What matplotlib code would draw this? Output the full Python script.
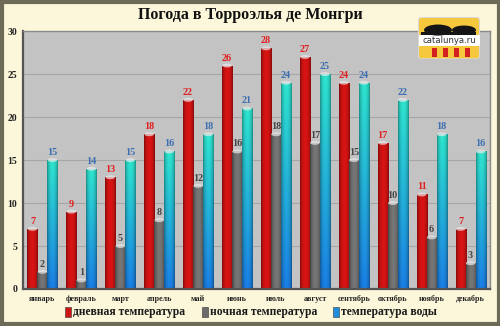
import numpy as np
import matplotlib
matplotlib.use("Agg")
import matplotlib.pyplot as plt
from matplotlib.patches import Rectangle, FancyBboxPatch, Ellipse
from matplotlib.colors import to_rgb

months = ["январь", "февраль", "март", "апрель", "май", "июнь",
          "июль", "август", "сентябрь", "октябрь", "ноябрь", "декабрь"]
day_temp = [7, 9, 13, 18, 22, 26, 28, 27, 24, 17, 11, 7]
night_temp = [2, 1, 5, 8, 12, 16, 18, 17, 15, 10, 6, 3]
water_temp = [15, 14, 15, 16, 18, 21, 24, 25, 24, 22, 18, 16]
yticks = [0, 5, 10, 15, 20, 25, 30]
title = "Погода в Торроэлья де Монгри"
legend_labels = ["дневная температура", "ночная температура", "температура воды"]

SERIF = ["Liberation Serif", "DejaVu Serif"]

fig = plt.figure(figsize=(5.0, 3.26), dpi=100)
fig.patch.set_facecolor("#fcf7da")
fig.patches.append(Rectangle((0.003, 0.005), 0.994, 0.99, transform=fig.transFigure,
                             fill=False, edgecolor="#6e6a58", linewidth=3.0))

ax = fig.add_axes([0.046, 0.1135, 0.934, 0.791])
ax.set_facecolor("#c3c3c3")
ax.set_xlim(-0.5, 11.5)
ax.set_ylim(0, 30)
ax.set_yticks(yticks)
ax.set_yticklabels([str(v) for v in yticks], fontfamily=SERIF, fontweight="bold",
                   fontsize=7, color="#222222")
ax.set_xticks(range(12))
ax.set_xticklabels(months, fontfamily=SERIF, fontweight="bold", fontsize=5.8, color="#222222")
ax.tick_params(length=0, pad=4)
for v in yticks[1:-1]:
    ax.axhline(v, color="#a6a6a6", linewidth=0.8, zorder=0.5)
for side in ["top", "right"]:
    ax.spines[side].set_color("#8a8a8a")
    ax.spines[side].set_linewidth(1.0)
for side in ["left", "bottom"]:
    ax.spines[side].set_color("#555555")
    ax.spines[side].set_linewidth(1.6)

width = 0.257
x = np.arange(12)

col = np.linspace(0, 1, 32)
prof = np.clip(np.sin(np.pi * col) ** 0.6, 0, 1)


def fill_gradient(patches, img_fn):
    for p in patches:
        x0, y0 = p.get_x(), p.get_y()
        w, h = p.get_width(), p.get_height()
        im = ax.imshow(img_fn(), extent=[x0, x0 + w, y0, y0 + h], aspect="auto",
                       origin="lower", zorder=2, interpolation="bilinear")
        im.set_clip_path(p)
        p.set_facecolor("none")
        p.set_edgecolor("none")


def horiz_img(edge, mid):
    e = np.array(to_rgb(edge))
    m = np.array(to_rgb(mid))
    row = e[None, :] * (1 - prof[:, None]) + m[None, :] * prof[:, None]
    return np.repeat(row[None, :, :], 2, axis=0)


def water_img():
    top = np.array(to_rgb("#2ee6cf"))
    bot = np.array(to_rgb("#1a7fe6"))
    t = np.linspace(0, 1, 64)[:, None, None]
    base = bot * (1 - t) + top * t
    shade = (0.6 + 0.4 * prof)[None, :, None]
    return np.clip(base * shade, 0, 1)


b_day = ax.bar(x - width, day_temp, width, zorder=2)
b_night = ax.bar(x, night_temp, width, zorder=2)
b_water = ax.bar(x + width, water_temp, width, zorder=2)

fill_gradient(b_day, lambda: horiz_img("#7a0a0a", "#d81414"))
fill_gradient(b_night, lambda: horiz_img("#3c3c3c", "#767676"))
fill_gradient(b_water, water_img)

label_style = dict(ha="center", va="bottom", fontfamily=SERIF, fontweight="bold",
                   fontsize=7.3, zorder=4)
for bars, vals, c in [(b_day, day_temp, "#e0201e"),
                      (b_night, night_temp, "#444444"),
                      (b_water, water_temp, "#3b6fb2")]:
    for p, v in zip(bars, vals):
        cx = p.get_x() + p.get_width() / 2
        ax.add_patch(Ellipse((cx, v), p.get_width() * 0.95, 0.45,
                             facecolor="#e8e8e8", edgecolor="none", alpha=0.7, zorder=3))
        ax.text(cx, v + 0.35, str(v), color=c, **label_style)

fig.text(0.5, 0.955, title, ha="center", va="center", fontfamily=SERIF,
         fontweight="bold", fontsize=11.5, color="#111111")

# legend row
leg_y = 0.042
items = [(0.13, "#d01414", legend_labels[0]),
         (0.404, "#6c6c6c", legend_labels[1]),
         (0.666, "#1f8fe0", legend_labels[2])]
for lx, c, txt in items:
    fig.patches.append(Rectangle((lx, leg_y - 0.014), 0.012, 0.03, transform=fig.transFigure,
                                 facecolor=c, edgecolor="#333333", linewidth=0.4))
    fig.text(lx + 0.016, leg_y, txt, ha="left", va="center", fontfamily=SERIF,
             fontweight="bold", fontsize=8.4, color="#1a1a1a")

# site badge in the top-right corner
lax = fig.add_axes([0.836, 0.818, 0.124, 0.13])
lax.set_xlim(0, 62)
lax.set_ylim(0, 42)
lax.axis("off")
lax.add_patch(FancyBboxPatch((0.5, 0.5), 61, 41, boxstyle="round,pad=0,rounding_size=3",
                             facecolor="#f6c83e", edgecolor="#d8d8d8", linewidth=0.8))
lax.add_patch(Rectangle((0.5, 13), 61, 11, facecolor="#ffffff", edgecolor="none"))
lax.add_patch(Ellipse((20, 29), 28, 11, facecolor="#151515"))
lax.add_patch(Ellipse((46, 29), 24, 9, facecolor="#151515"))
lax.add_patch(Rectangle((3, 24), 55, 3, facecolor="#151515"))
lax.text(31, 18.5, "catalunya.ru", ha="center", va="center", fontsize=6.1,
         fontfamily="DejaVu Sans", color="#333333")
for sx in [14, 25, 36, 47]:
    lax.add_patch(Rectangle((sx, 2), 5, 9.5, facecolor="#d42020", edgecolor="none"))

fig.savefig("out.png", dpi=100, facecolor=fig.get_facecolor())
